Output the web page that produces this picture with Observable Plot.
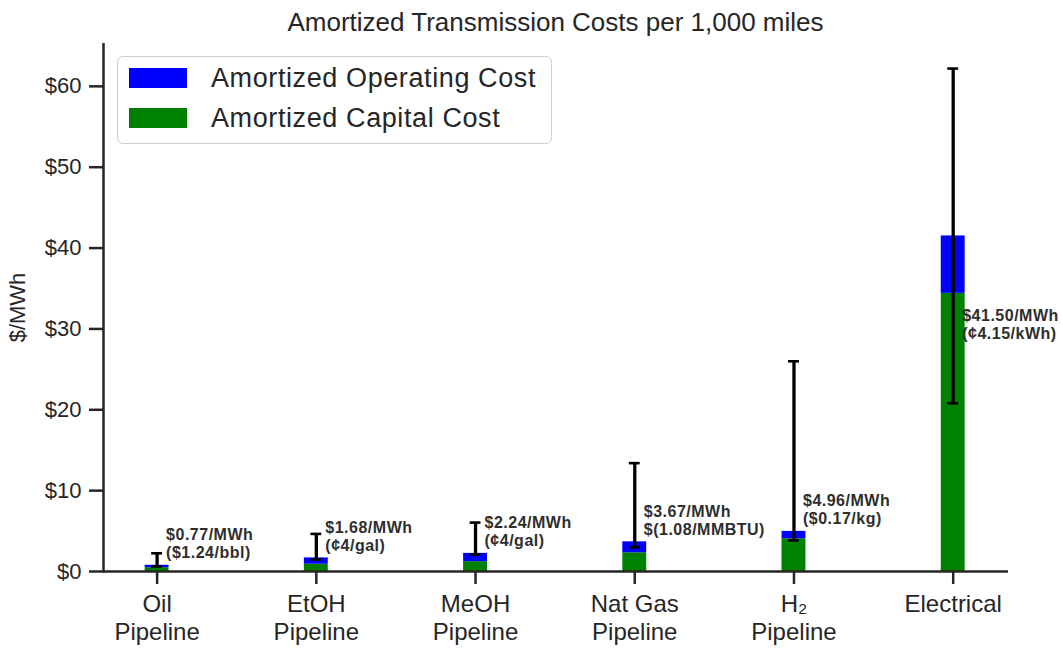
<!DOCTYPE html>
<html>
<head>
<meta charset="utf-8">
<script src="https://cdn.jsdelivr.net/npm/d3@7"></script>
<script src="https://cdn.jsdelivr.net/npm/@observablehq/plot@0.6"></script>
<style>
  html, body { margin: 0; padding: 0; background: #fff; }
  #wrap { position: relative; width: 1063px; height: 648px; font-family: "Liberation Sans", Arial, sans-serif; color: #262626; }
  #title { position: relative; height: 43px; width: 905px; margin-left: 103px; text-align: center; font-size: 26px; line-height: 43px; padding-top: 1px; box-sizing: border-box; }
  #legend { position: absolute; left: 117px; top: 56px; width: 435px; height: 88px; box-sizing: border-box; border: 1.5px solid #cfcfcf; border-radius: 6px; background: rgba(255,255,255,0.85); }
  .lg-row { position: absolute; left: 11px; height: 20px; display: flex; align-items: center; }
  .lg-sw { width: 58px; height: 20px; }
  .lg-tx { margin-left: 24px; font-size: 27px; letter-spacing: 0.6px; white-space: nowrap; line-height: 20px; }
  #chart g[font-weight="bold"] { letter-spacing: 0.5px; }
</style>
</head>
<body>
<div id="wrap">
  <div id="title"></div>
  <div id="chart"></div>
  <div id="legend"></div>
</div>
<script>
// ---- data ----
const categories = ["Oil\nPipeline", "EtOH\nPipeline", "MeOH\nPipeline", "Nat Gas\nPipeline", "H₂\nPipeline", "Electrical"];
const capitalCost = [0.47, 0.90, 1.22, 2.31, 4.05, 34.4];
const operatingCost = [0.30, 0.78, 1.02, 1.36, 0.91, 7.10];
const errorLow = [0.62, 1.48, 2.10, 3.00, 3.85, 20.8];
const errorHigh = [2.25, 4.65, 6.05, 13.4, 26.0, 62.2];
const costLabels = ["$0.77/MWh", "$1.68/MWh", "$2.24/MWh", "$3.67/MWh", "$4.96/MWh", "$41.50/MWh"];
const unitLabels = ["($1.24/bbl)", "(¢4/gal)", "(¢4/gal)", "$(1.08/MMBTU)", "($0.17/kg)", "(¢4.15/kWh)"];
const seriesNames = ["Amortized Operating Cost", "Amortized Capital Cost"];
const seriesColors = ["#0000ff", "#008000"];
const yTicks = [0, 10, 20, 30, 40, 50, 60];
const titleText = "Amortized Transmission Costs per 1,000 miles";
const yLabel = "$/MWh";

// ---- derived tables ----
const stacked = [];
categories.forEach((c, i) => stacked.push({cat: c, series: seriesNames[1], value: capitalCost[i]}));
categories.forEach((c, i) => stacked.push({cat: c, series: seriesNames[0], value: operatingCost[i]}));
const rows = categories.map((c, i) => ({
  cat: c,
  total: capitalCost[i] + operatingCost[i],
  lo: errorLow[i],
  hi: errorHigh[i],
  label: costLabels[i] + "\n" + unitLabels[i]
}));
// annotation anchor: above the bar for pipelines, inside the tall bar for Electrical
const labelAt = d => d.total > 20 ? d.total - 10.9 : d.total + 2.7;

document.getElementById("title").textContent = titleText;

const ink = "#262626";
const chart = Plot.plot({
  width: 1063,
  height: 605,
  marginTop: 0,
  marginBottom: 77,
  marginLeft: 103,
  marginRight: 55,
  style: {fontFamily: '"Liberation Sans", Arial, sans-serif', color: ink, background: "white"},
  x: {type: "band", domain: categories, paddingInner: 0.85, paddingOuter: 0.267, align: 0.49, round: false},
  y: {domain: [0, 65.3]},
  color: {domain: seriesNames, range: seriesColors},
  marks: [
    Plot.barY(stacked, {x: "cat", y: "value", fill: "series"}),
    Plot.ruleX(rows, {x: "cat", y1: "lo", y2: "hi", stroke: "black", strokeWidth: 3.3}),
    Plot.tickY(rows, {x: "cat", y: "lo", stroke: "black", strokeWidth: 2.6, insetLeft: 6.5, insetRight: 6.5}),
    Plot.tickY(rows, {x: "cat", y: "hi", stroke: "black", strokeWidth: 2.6, insetLeft: 6.5, insetRight: 6.5}),
    Plot.text(rows, {x: "cat", y: labelAt, text: "label", textAnchor: "start", dx: 9, lineAnchor: "middle",
      fontWeight: "bold", fontSize: 16, lineHeight: 1.13, fill: "#2e2e2e"}),
    Plot.frame({anchor: "left", stroke: ink, strokeWidth: 2.5}),
    Plot.ruleY([0], {stroke: ink, strokeWidth: 2.5}),
    Plot.axisY({ticks: yTicks, tickFormat: d => "$" + d, tickSize: 14, tickPadding: 8, fontSize: 22,
      strokeWidth: 2.5, label: yLabel, labelAnchor: "center", labelArrow: "none", labelOffset: 94}),
    Plot.axisX({tickSize: 13, tickPadding: 7, fontSize: 24, lineHeight: 1.18, strokeWidth: 2.5, label: null, tickFormat: d => d})
  ]
});
document.getElementById("chart").appendChild(chart);

// legend (inside the plot area, as in the reference)
const lg = document.getElementById("legend");
seriesNames.forEach((name, i) => {
  const row = document.createElement("div");
  row.className = "lg-row";
  row.style.top = (i === 0 ? 10.5 : 50.5) + "px";
  const sw = document.createElement("div");
  sw.className = "lg-sw";
  sw.style.background = seriesColors[i];
  const tx = document.createElement("div");
  tx.className = "lg-tx";
  tx.textContent = name;
  row.appendChild(sw); row.appendChild(tx);
  lg.appendChild(row);
});
</script>
</body>
</html>
